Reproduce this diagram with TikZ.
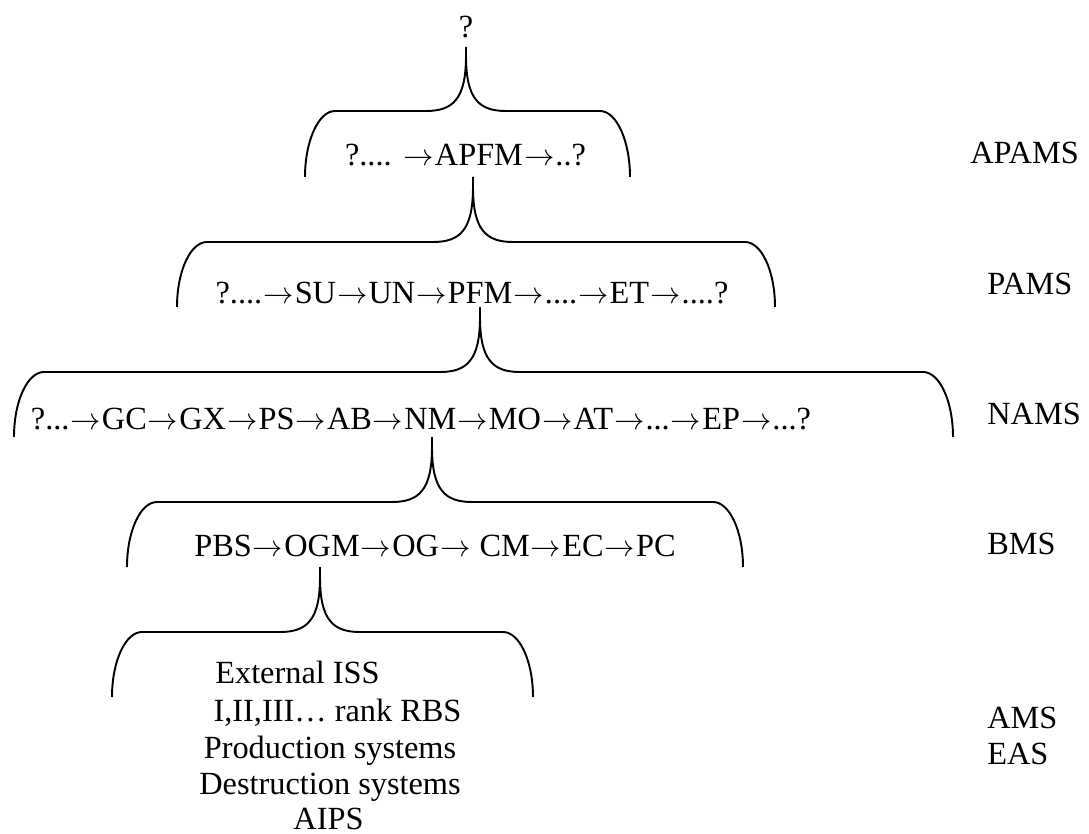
\documentclass[tikz,border=0pt]{standalone}
\usepackage{fontspec}
\setmainfont{Liberation Serif}
\usepackage{tikz}
\newcommand{\ra}{\kern0.6pt\ensuremath{\rightarrow}\kern0.6pt}

\begin{document}
\begin{tikzpicture}[scale=0.2, font=\fontsize{18.4}{22}\selectfont]
\tikzstyle{every node}+=[inner sep=0pt]
\tikzstyle{row}=[anchor=base]
\tikzstyle{lvl}=[anchor=base west]
\tikzstyle{brace}=[black, line width=1.1pt]
\useasboundingbox (0,0) rectangle (108.9,-83.4);
% braces
\draw [brace] (30.5,-17.7) .. controls (30.5,-14.1) and (31.85,-11.1) .. (33.5,-11.1) -- (42.6,-11.1) .. controls (45.3,-11.1) and (46.6,-9.9) .. (46.6,-5.6) -- (46.6,-4.7) -- (46.6,-5.6) .. controls (46.6,-9.9) and (47.9,-11.1) .. (50.6,-11.1) -- (60,-11.1) .. controls (61.65,-11.1) and (63,-14.1) .. (63,-17.7);
\draw [brace] (17.7,-30.7) .. controls (17.7,-27.1) and (19.05,-24.2) .. (20.7,-24.2) -- (43.3,-24.2) .. controls (46,-24.2) and (47.3,-23) .. (47.3,-18.7) -- (47.3,-17.7) -- (47.3,-18.7) .. controls (47.3,-23) and (48.6,-24.2) .. (51.3,-24.2) -- (74.5,-24.2) .. controls (76.15,-24.2) and (77.5,-27.1) .. (77.5,-30.7);
\draw [brace] (1.4,-43.7) .. controls (1.4,-40.1) and (2.75,-37.2) .. (4.4,-37.2) -- (44,-37.2) .. controls (46.7,-37.2) and (48,-36) .. (48,-31.7) -- (48,-30.7) -- (48,-31.7) .. controls (48,-36) and (49.3,-37.2) .. (52,-37.2) -- (92.3,-37.2) .. controls (93.95,-37.2) and (95.3,-40.1) .. (95.3,-43.7);
\draw [brace] (12.7,-56.7) .. controls (12.7,-53.1) and (14.05,-50.2) .. (15.7,-50.2) -- (39.2,-50.2) .. controls (41.9,-50.2) and (43.2,-49) .. (43.2,-44.7) -- (43.2,-43.7) -- (43.2,-44.7) .. controls (43.2,-49) and (44.5,-50.2) .. (47.2,-50.2) -- (71.3,-50.2) .. controls (72.95,-50.2) and (74.3,-53.1) .. (74.3,-56.7);
\draw [brace] (11.2,-69.7) .. controls (11.2,-66.1) and (12.55,-63.2) .. (14.2,-63.2) -- (28,-63.2) .. controls (30.7,-63.2) and (32,-62) .. (32,-57.7) -- (32,-56.7) -- (32,-57.7) .. controls (32,-62) and (33.3,-63.2) .. (36,-63.2) -- (50.3,-63.2) .. controls (51.95,-63.2) and (53.3,-66.1) .. (53.3,-69.7);
% rows
\draw (46.6,-3.8) node [row] (top) {?};
\draw (46.55,-16.6) node [row] (apfm) {?.... \ra APFM\ra ..?};
\draw (47.2,-30.3) node [row] (pfm) {?....\ra SU\ra UN\ra PFM\ra ....\ra ET\ra ....?};
\draw (42.1,-42.9) node [row] (nm) {?...\ra GC\ra GX\ra PS\ra AB\ra NM\ra MO\ra AT\ra ...\ra EP\ra ...?};
\draw (43.5,-55.6) node [row] (ogm) {PBS\ra OGM\ra OG\ra{} CM\ra EC\ra PC};
\draw (29.75,-68.3) node [row] (iss) {External ISS};
\draw (33.75,-72.1) node [row] (rbs) {I,II,III… rank RBS};
\draw (33,-75.8) node [row] (prod) {Production systems};
\draw (33,-79.4) node [row] (destr) {Destruction systems};
\draw (32.85,-82.9) node [row] (aips) {AIPS};
% levels
\draw (97,-16.4) node [lvl] (apams) {APAMS};
\draw (98.7,-29.4) node [lvl] (pams) {PAMS};
\draw (98.7,-42.4) node [lvl] (nams) {NAMS};
\draw (98.7,-55.4) node [lvl] (bms) {BMS};
\draw (98.7,-72.8) node [lvl] (ams) {AMS};
\draw (98.7,-76.4) node [lvl] (eas) {EAS};
\end{tikzpicture}
\end{document}
